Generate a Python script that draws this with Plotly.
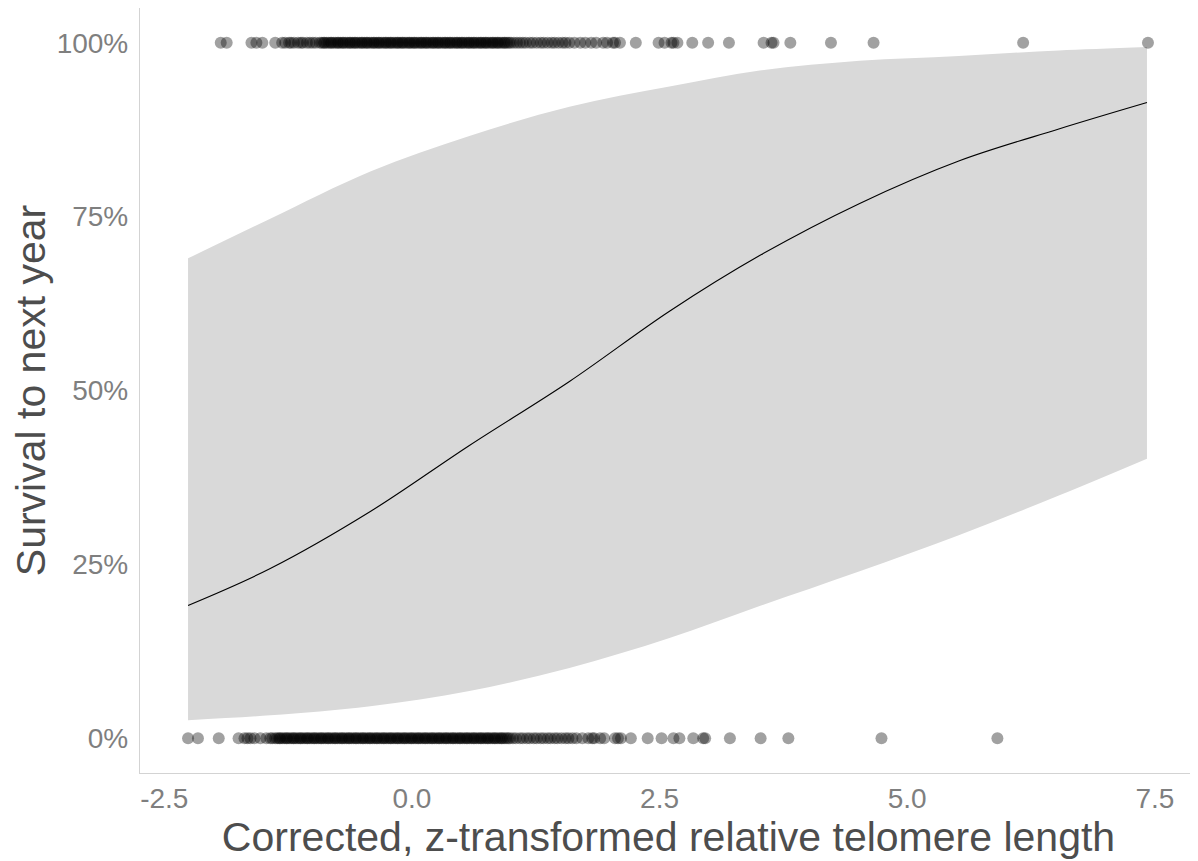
import plotly.graph_objects as go

# Fitted curve
fit_x = [-2.26, -1.43, -0.42, 0.58, 1.59, 2.60, 3.51, 4.52, 5.52, 6.53, 7.42]
fit_y = [0.191, 0.244, 0.326, 0.421, 0.513, 0.614, 0.694, 0.769, 0.830, 0.876, 0.914]
ci_upper = [0.690, 0.747, 0.815, 0.866, 0.908, 0.937, 0.960, 0.974, 0.981, 0.989, 0.994]
ci_lower = [0.026, 0.033, 0.046, 0.068, 0.101, 0.144, 0.190, 0.240, 0.292, 0.349, 0.402]

# Observations: survived (1) and died (0)
survived_x = [
    -1.93, -1.87, -1.62, -1.57, -1.51, -1.38,
    -1.31, -1.28, -1.24, -1.22, -1.19, -1.15, -1.12, -1.10, -1.06, -1.03, -1.00, -0.97,
    -0.93, -0.91, -0.89, -0.88, -0.86, -0.84, -0.82, -0.81, -0.79, -0.77, -0.75, -0.74,
    -0.72, -0.70, -0.69, -0.67, -0.65, -0.63, -0.62, -0.60, -0.58, -0.57, -0.55, -0.53,
    -0.51, -0.50, -0.48, -0.46, -0.45, -0.43, -0.41, -0.39, -0.38, -0.36, -0.34, -0.33,
    -0.31, -0.29, -0.27, -0.26, -0.24, -0.22, -0.21, -0.19, -0.17, -0.15, -0.14, -0.12,
    -0.10, -0.09, -0.07, -0.05, -0.03, -0.02, 0.00, 0.02, 0.03, 0.05, 0.07, 0.09, 0.10,
    0.12, 0.14, 0.15, 0.17, 0.19, 0.21, 0.22, 0.24, 0.26, 0.27, 0.29, 0.31, 0.33, 0.34,
    0.36, 0.38, 0.39, 0.41, 0.43, 0.45, 0.46, 0.48, 0.50, 0.51, 0.53, 0.55, 0.57, 0.58,
    0.60, 0.62, 0.63, 0.65, 0.67, 0.69, 0.70, 0.72, 0.74, 0.75, 0.77, 0.79, 0.81, 0.82,
    0.84, 0.86, 0.87, 0.89, 0.91, 0.93, 0.94, 0.96, 0.98, 1.00, 1.03, 1.06, 1.09,
    1.12, 1.15, 1.19, 1.22, 1.26, 1.30, 1.33, 1.37, 1.41, 1.44, 1.48, 1.52, 1.55, 1.59,
    1.64, 1.70, 1.75, 1.81, 1.86, 1.93, 1.97, 2.03, 2.05, 2.10,
    2.26, 2.49, 2.55, 2.62, 2.64, 2.68, 2.83, 2.99, 3.20, 3.55, 3.63, 3.65, 3.82,
    4.23, 4.66, 6.17, 7.43,
]
died_x = [
    -2.26, -2.16, -1.95, -1.75, -1.69, -1.66, -1.63, -1.59, -1.53, -1.47, -1.43, -1.41,
    -1.38, -1.36, -1.34, -1.33, -1.31, -1.29, -1.27, -1.26, -1.24, -1.22, -1.20, -1.19,
    -1.17, -1.15, -1.13, -1.12, -1.10, -1.08, -1.06, -1.05, -1.03, -1.01, -0.99, -0.98,
    -0.96, -0.94, -0.92, -0.91, -0.89, -0.87, -0.85, -0.84, -0.82, -0.80, -0.78, -0.77,
    -0.75, -0.73, -0.71, -0.70, -0.68, -0.66, -0.64, -0.63, -0.61, -0.59, -0.57, -0.56,
    -0.54, -0.52, -0.50, -0.49, -0.47, -0.45, -0.43, -0.42, -0.40, -0.38, -0.36, -0.35,
    -0.33, -0.31, -0.29, -0.28, -0.26, -0.24, -0.22, -0.21, -0.19, -0.17, -0.15, -0.14,
    -0.12, -0.10, -0.08, -0.07, -0.05, -0.03, -0.01, 0.00, 0.02, 0.04, 0.06, 0.07, 0.09,
    0.11, 0.13, 0.14, 0.16, 0.18, 0.20, 0.21, 0.23, 0.25, 0.27, 0.28, 0.30, 0.32, 0.34,
    0.35, 0.37, 0.39, 0.41, 0.42, 0.44, 0.46, 0.48, 0.49, 0.51, 0.53, 0.55, 0.56, 0.58,
    0.60, 0.62, 0.63, 0.65, 0.67, 0.69, 0.70, 0.72, 0.74, 0.76, 0.77, 0.79, 0.81, 0.83,
    0.84, 0.86, 0.88, 0.90, 0.91, 0.93, 0.95, 0.97, 0.99,
    1.02, 1.05, 1.09, 1.12, 1.16, 1.19, 1.23, 1.26, 1.30, 1.33, 1.37, 1.40, 1.44, 1.47,
    1.51, 1.55, 1.58, 1.62, 1.66,
    1.72, 1.78, 1.82, 1.84, 1.90, 1.94, 2.05, 2.08, 2.11, 2.21, 2.38, 2.52, 2.64, 2.70,
    2.84, 2.94, 2.96, 3.21, 3.52, 3.80, 4.74, 5.91,
]

x_tick_vals = [-2.5, 0.0, 2.5, 5.0, 7.5]
x_tick_text = ["-2.5", "0.0", "2.5", "5.0", "7.5"]
y_tick_vals = [0, 0.25, 0.5, 0.75, 1.0]
y_tick_text = ["0%", "25%", "50%", "75%", "100%"]

FONT = "Liberation Sans, Arial, sans-serif"
pt_color = "rgba(0,0,0,0.37)"

fig = go.Figure()

# Confidence ribbon
fig.add_trace(go.Scatter(x=fit_x, y=ci_lower, mode="lines", line=dict(width=0, shape="spline"),
                         hoverinfo="skip", showlegend=False))
fig.add_trace(go.Scatter(x=fit_x, y=ci_upper, mode="lines", line=dict(width=0, shape="spline"),
                         fill="tonexty", fillcolor="rgb(217,217,217)", hoverinfo="skip",
                         showlegend=False))

# Points
fig.add_trace(go.Scatter(x=survived_x, y=[1] * len(survived_x), mode="markers",
                         marker=dict(size=12, color=pt_color, line=dict(width=0)),
                         showlegend=False))
fig.add_trace(go.Scatter(x=died_x, y=[0] * len(died_x), mode="markers",
                         marker=dict(size=12, color=pt_color, line=dict(width=0)),
                         showlegend=False))

# Fitted line
fig.add_trace(go.Scatter(x=fit_x, y=fit_y, mode="lines",
                         line=dict(color="black", width=1.1, shape="spline"),
                         showlegend=False))

# page has an 8px body margin, so the figure is 8px smaller in each direction
fig.update_layout(
    width=1190, height=853,
    margin=dict(l=132, r=1, t=0, b=88),
    paper_bgcolor="white", plot_bgcolor="white",
    font=dict(family=FONT),
    showlegend=False,
)
fig.update_xaxes(
    range=[-2.745, 7.925], showgrid=False, zeroline=False,
    tickmode="array", tickvals=x_tick_vals, ticktext=x_tick_text,
    tickfont=dict(size=28, color="#7f7f7f"), ticks="", ticklabelstandoff=0,
    showline=True, linecolor="#d3d3d3", linewidth=1.3,
    title=dict(text="Corrected, z-transformed relative telomere length",
               font=dict(size=41, color="#4d4d4d"), standoff=7),
    automargin=False,
)
fig.update_yaxes(
    range=[-0.05, 1.05], showgrid=False, zeroline=False,
    tickmode="array", tickvals=y_tick_vals, ticktext=y_tick_text,
    tickfont=dict(size=28, color="#7f7f7f"), ticks="", ticklabelstandoff=5,
    showline=True, linecolor="#d3d3d3", linewidth=1.3,
    title=dict(text="Survival to next year",
               font=dict(size=41, color="#4d4d4d"), standoff=12),
    automargin=False,
)

fig.write_html("out.html")
